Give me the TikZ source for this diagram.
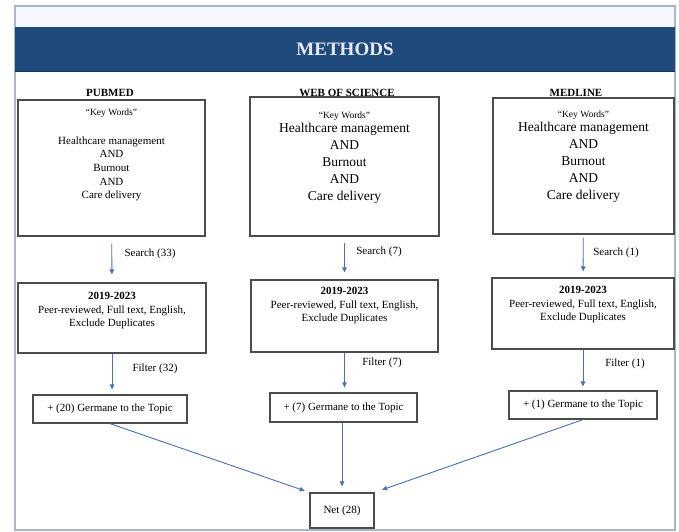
\documentclass[tikz,border=0pt]{standalone}
\usepackage{fontspec}
\setmainfont{Liberation Serif}
\usetikzlibrary{arrows.meta}

\definecolor{azulosc}{HTML}{1F4A7C}
\definecolor{azulfl}{HTML}{4C6FB3}
\definecolor{marco}{HTML}{A9B6C8}
\definecolor{fondo}{HTML}{F4F7FB}

\tikzset{caja/.style={draw=black!70, line width=1.2pt, inner sep=0pt},
  txt/.style={font=\fontsize{11}{13.5}\selectfont, align=center, inner sep=0pt},
  kw/.style={font=\fontsize{13.5}{17}\selectfont, align=center, inner sep=0pt, anchor=north},
  cab/.style={font=\bfseries\fontsize{11}{13}\selectfont, inner sep=0pt},
  flecha/.style={draw=azulfl, line width=0.9pt, -{Triangle[length=5pt,width=4.5pt]}}}

\begin{document}
\begin{tikzpicture}[x=1pt, y=-1pt]
  \useasboundingbox (0,0) rectangle (679,531);
  \draw[marco, line width=1.5pt, fill=white] (15,6) rectangle (675,530);
  \fill[fondo] (16,7) rectangle (674,27);
  \node[fill=azulosc, minimum width=660pt, minimum height=44pt, inner sep=0pt, text=blue!8,
        font=\bfseries\fontsize{19}{19}\selectfont] (tit) at (345,49) {METHODS};
  \draw[azulosc!70!black, line width=1pt] (tit.south west) -- (tit.south east);

  \node[cab] (pub) at (110,93) {PUBMED};
  \node[cab] (wos) at (347,93) {WEB OF SCIENCE};
  \node[cab] (med) at (576,93) {MEDLINE};

  % palabras clave
  \node[caja, minimum width=187pt, minimum height=136pt] (kw1) at (111.5,168) {};
  \node[caja, minimum width=189pt, minimum height=139pt] (kw2) at (344.5,166.5) {};
  \node[caja, minimum width=181pt, minimum height=136pt] (kw3) at (583.5,166) {};
  \node[kw, font=\fontsize{11}{13.6}\selectfont] (kwt1) at (111.5,109) {{\fontsize{9.5}{11}\selectfont ``Key Words''}\\[15pt]
    Healthcare management\\AND\\Burnout\\AND\\Care delivery};
  \node[kw] (kwt2) at (344.5,112) {{\fontsize{9.5}{11}\selectfont ``Key Words''}\\[-3pt]
    Healthcare management\\AND\\Burnout\\AND\\Care delivery};
  \node[kw] (kwt3) at (583.5,110.5) {{\fontsize{9.5}{11}\selectfont ``Key Words''}\\[-3pt]
    Healthcare management\\AND\\Burnout\\AND\\Care delivery};

  % filtros
  \node[caja, minimum width=188pt, minimum height=70pt] (fl1) at (112,318) {};
  \node[caja, minimum width=187pt, minimum height=72pt] (fl2) at (344.5,316) {};
  \node[caja, minimum width=182pt, minimum height=71pt] (fl3) at (583,313.5) {};
  \node[txt, anchor=north] (flt1) at (112,292) {\textbf{2019-2023}\\Peer-reviewed, Full text, English,\\Exclude Duplicates};
  \node[txt, anchor=north] (flt2) at (344.5,287) {\textbf{2019-2023}\\Peer-reviewed, Full text, English,\\Exclude Duplicates};
  \node[txt, anchor=north] (flt3) at (583,286) {\textbf{2019-2023}\\Peer-reviewed, Full text, English,\\Exclude Duplicates};

  \node[caja, txt, minimum width=154pt, minimum height=28pt] (tp1) at (110,409) {+ (20) Germane to the Topic};
  \node[caja, txt, minimum width=147pt, minimum height=29pt] (tp2) at (343.5,407.5) {+ (7) Germane to the Topic};
  \node[caja, txt, minimum width=148pt, minimum height=28pt] (tp3) at (583,405) {+ (1) Germane to the Topic};
  \node[caja, txt, minimum width=64pt, minimum height=35pt] (net) at (342,510.5) {Net (28)};

  \draw[flecha, shorten <=7pt, shorten >=8pt] (kw1) -- (fl1);
  \draw[flecha, shorten <=6pt, shorten >=7pt] (kw2) -- (fl2);
  \draw[flecha, shorten <=3pt, shorten >=6pt] (kw3) -- (fl3);
  \draw[flecha, shorten >=5pt] (fl1) -- (tp1.north -| fl1);
  \draw[flecha, shorten >=5pt] (fl2) -- (tp2.north -| fl2);
  \draw[flecha, shorten >=4pt] (fl3) -- (tp3);
  \draw[flecha, shorten >=5pt] (tp1.south) -- (net.north west);
  \draw[flecha, shorten >=6pt] (tp2.south -| net) -- (net);
  \draw[flecha, shorten >=8pt] (tp3.south) -- (net.north east);

  \node[txt] (s1) at (150,254) {Search (33)};
  \node[txt] (s2) at (379,252) {Search (7)};
  \node[txt] (s3) at (616,253) {Search (1)};
  \node[txt] (f1) at (155,369) {Filter (32)};
  \node[txt] (f2) at (382,363) {Filter (7)};
  \node[txt] (f3) at (625,364) {Filter (1)};
\end{tikzpicture}
\end{document}
